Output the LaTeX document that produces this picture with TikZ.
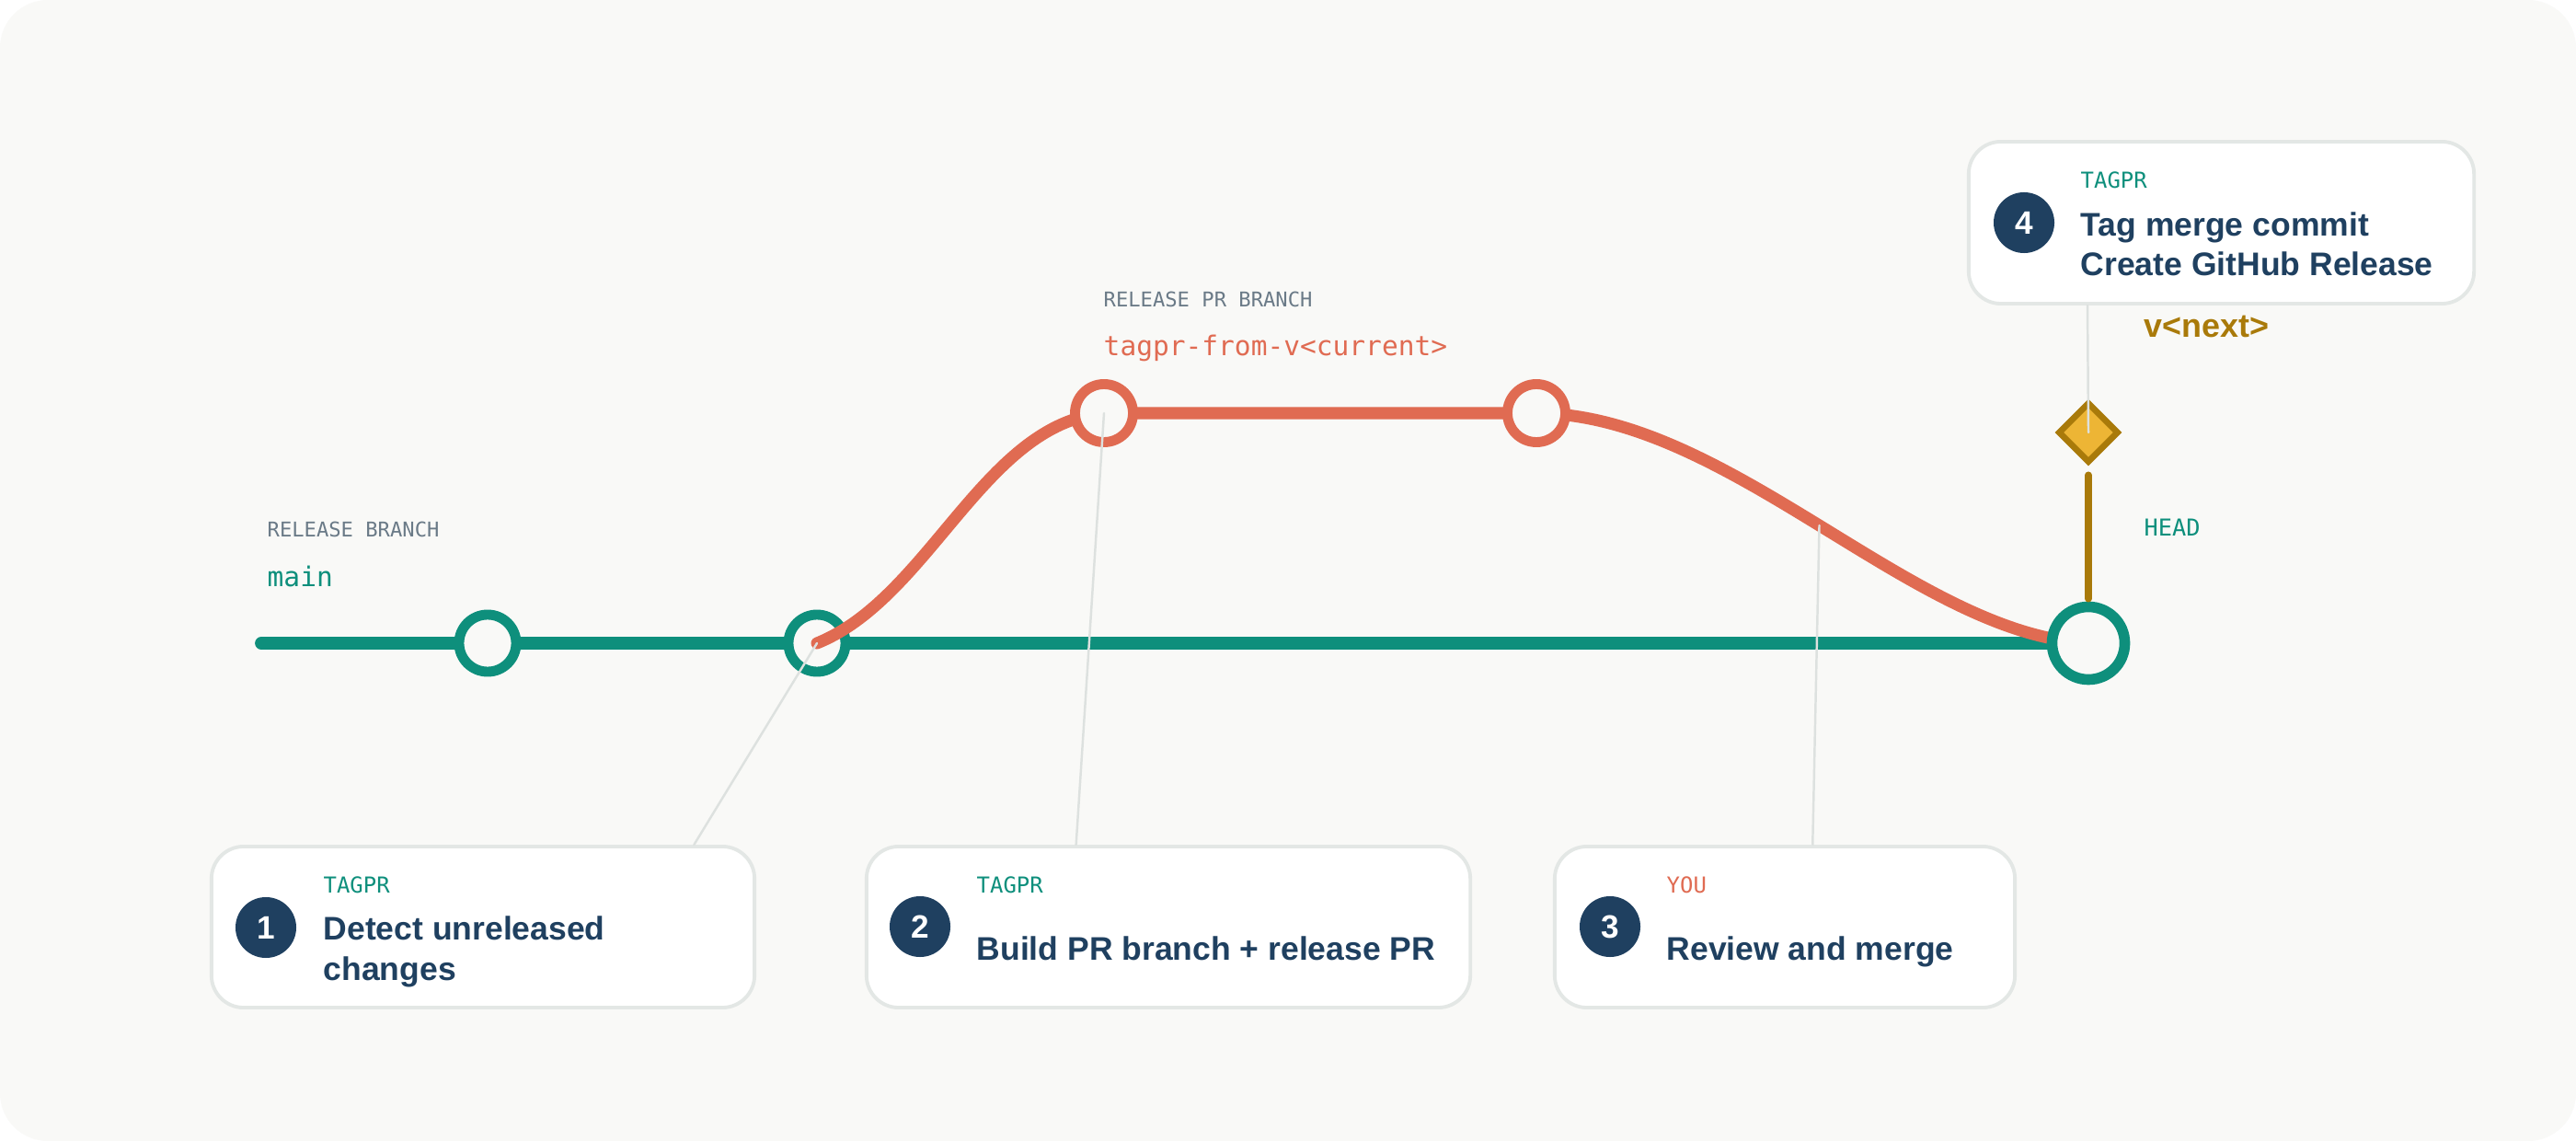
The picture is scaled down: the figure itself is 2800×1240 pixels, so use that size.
\documentclass[tikz,border=0pt]{standalone}
\usepackage{fontspec}
\setmainfont{Liberation Sans}
\setmonofont{DejaVu Sans Mono}
\definecolor{PageColor}{RGB}{249,249,247}
\definecolor{MainColor}{RGB}{14,143,124}
\definecolor{BranchColor}{RGB}{224,107,82}
\definecolor{StepColor}{RGB}{31,64,96}
\definecolor{TagColor}{RGB}{169,122,10}
\definecolor{TagFill}{RGB}{237,181,53}
\definecolor{LabelColor}{RGB}{106,122,135}
\definecolor{CardLine}{RGB}{227,231,229}
\definecolor{LeaderColor}{RGB}{221,225,223}
\usetikzlibrary{shapes.geometric, calc}
\tikzstyle{commit} = [circle, draw=MainColor, line width=3.1pt, fill=PageColor, minimum size=0.62cm, inner sep=0pt]
\tikzstyle{prcommit} = [circle, draw=BranchColor, line width=3.1pt, fill=PageColor, minimum size=0.63cm, inner sep=0pt]
\tikzstyle{card} = [draw=CardLine, line width=1.1pt, fill=white, rounded corners=0.35cm, inner sep=0pt, minimum height=1.75cm]
\tikzstyle{badge} = [circle, fill=StepColor, text=white, font=\bfseries\fontsize{10}{12}\selectfont, minimum size=0.66cm, inner sep=0pt]
\tikzstyle{who} = [anchor=base west, inner sep=0pt, font=\ttfamily\fontsize{6.8}{8}\selectfont]
\tikzstyle{steptitle} = [anchor=base west, inner sep=0pt, align=left, text=StepColor, font=\bfseries\fontsize{10.1}{12.5}\selectfont]
\tikzstyle{branchkind} = [anchor=base west, inner sep=0pt, text=LabelColor, font=\ttfamily\fontsize{6.3}{8}\selectfont]
\tikzstyle{branchname} = [anchor=base west, inner sep=0pt, font=\ttfamily\fontsize{8.4}{10}\selectfont]
\tikzstyle{leader} = [LeaderColor, line width=0.7pt, line cap=round]

\begin{document}
\begin{tikzpicture}[x=0.01cm, y=-0.01cm]
            % Page
            \fill[white] (0,0) rectangle (2800,1240);
            \fill[PageColor, rounded corners=0.52cm] (0,0) rectangle (2800,1240);
            \useasboundingbox (0,0) rectangle (2800,1240);

            % Release branch
            \node[branchkind] (mainkind) at (290,584) {RELEASE BRANCH};
            \node[branchname, text=MainColor] (mainname) at (290,638) {main};
            \coordinate (start) at (284,699);
            \node[circle, minimum size=0.79cm] (headspot) at (2270,699) {};
            \draw[MainColor, line width=3.9pt, line cap=round] (start) -- (headspot.center);
            \node[commit] (c1) at (530,699) {};
            \node[commit] (c2) at (888,699) {};

            % Release PR branch
            \node[branchkind] (prkind) at (1199,334) {RELEASE PR BRANCH};
            \node[branchname, text=BranchColor] (prname) at (1199,387) {tagpr-from-v<current>};
            \coordinate (o1spot) at (1200,449);
            \coordinate (o2spot) at (1670,449);
            \draw[BranchColor, line width=3.7pt, line cap=round] (c2.center)
                .. controls (1010,650) and (1070,460) .. (o1spot)
                -- (o2spot)
                .. controls (1880,450) and (2080,690) .. coordinate[pos=0.5] (bend) (headspot.center);
            \node[prcommit] (o1) at (o1spot) {};
            \node[prcommit] (o2) at (o2spot) {};

            % Head and tag
            \node[circle, draw=MainColor, line width=3.3pt, fill=PageColor, minimum size=0.79cm, inner sep=0pt] (head) at (2270,699) {};
            \node[diamond, draw=TagColor, fill=TagFill, line width=1.9pt, minimum size=0.66cm, inner sep=0pt] (tag) at (2270,470) {};
            \draw[TagColor, line width=2.2pt, line cap=round] ([yshift=-0.1cm]tag.south) -- ([yshift=0.03cm]head.north);
            \node[anchor=base west, inner sep=0pt, text=TagColor, font=\bfseries\fontsize{10.2}{12}\selectfont] (tagname) at (2330,367) {v<next>};
            \node[who, text=MainColor, font=\ttfamily\fontsize{7.2}{8}\selectfont] (headname) at (2330,583) {HEAD};

            % Cards
            \node[card, minimum width=5.9cm] (card1) at (525,1007.5) {};
            \node[card, minimum width=6.56cm] (card2) at (1270,1007.5) {};
            \node[card, minimum width=5.0cm] (card3) at (1940,1007.5) {};
            \node[card, minimum width=5.49cm, minimum height=1.76cm] (card4) at (2414.5,242) {};

            \node[badge] (n1) at (289,1008) {1};
            \node[who, text=MainColor] (k1) at (351,970) {TAGPR};
            \node[steptitle] (t1) at (351,1065) {Detect unreleased\\changes};

            \node[badge] (n2) at (1000,1007) {2};
            \node[who, text=MainColor] (k2) at (1061,970) {TAGPR};
            \node[steptitle] (t2) at (1061,1043) {Build PR branch + release PR};

            \node[badge] (n3) at (1750,1007) {3};
            \node[who, text=BranchColor] (k3) at (1811,970) {YOU};
            \node[steptitle] (t3) at (1811,1043) {Review and merge};

            \node[badge] (n4) at (2200,242) {4};
            \node[who, text=MainColor] (k4) at (2261,205) {TAGPR};
            \node[steptitle] (t4) at (2261,300) {Tag merge commit\\Create GitHub Release};

            % Leaders
            \draw[leader] (c2.center) -- ($(card1.north west)!0.886!(card1.north east)$);
            \draw[leader] (o1.center) -- ($(card2.north west)!0.348!(card2.north east)$);
            \draw[leader] (bend) -- ($(card3.north west)!0.56!(card3.north east)$);
            \draw[leader] (tag.center) -- ($(card4.south west)!0.237!(card4.south east)$);
        \end{tikzpicture}
\end{document}
